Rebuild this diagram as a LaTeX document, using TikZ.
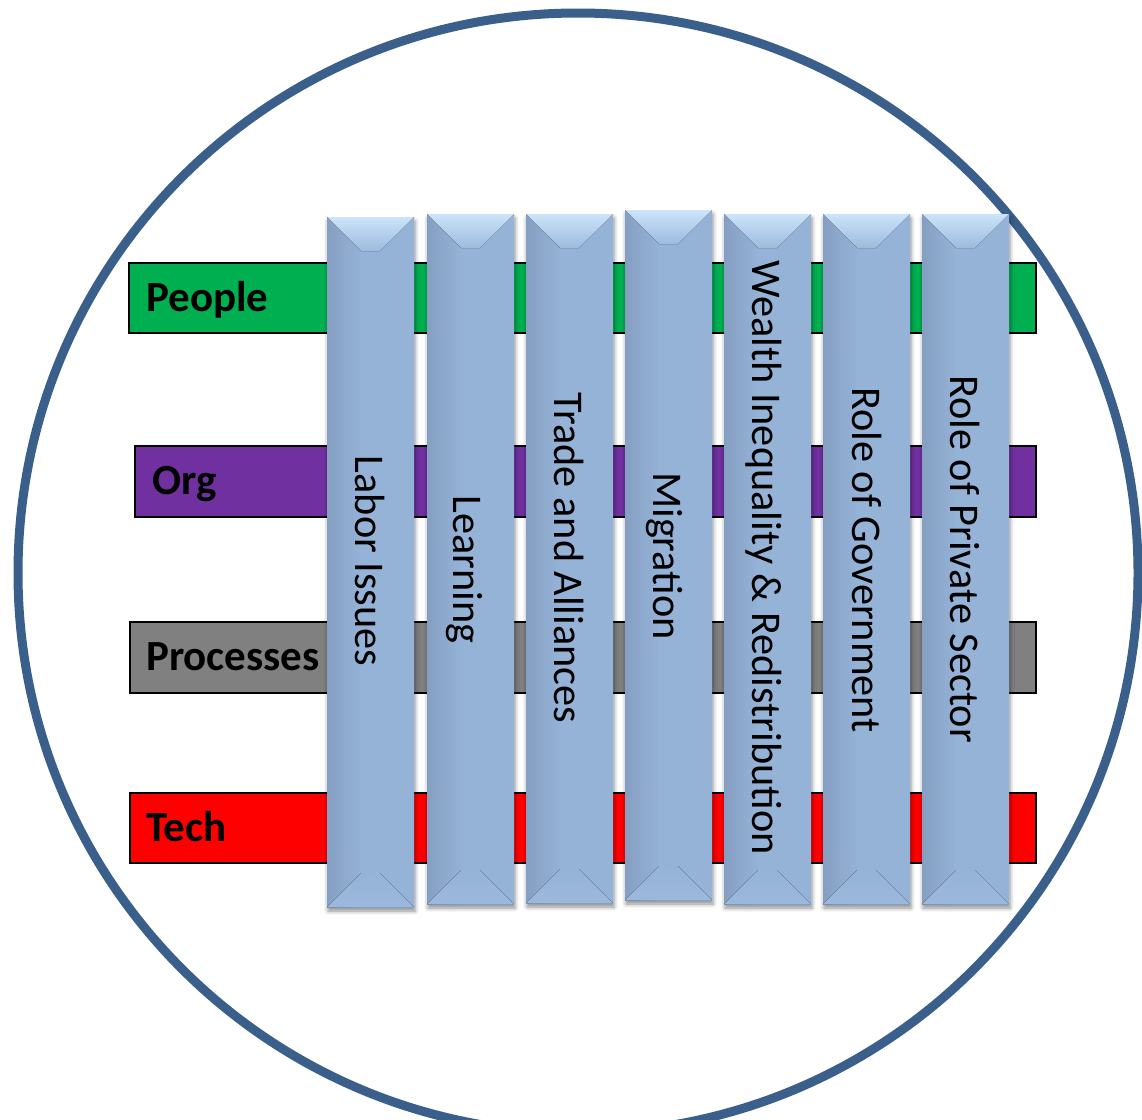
\documentclass[tikz,border=0pt]{standalone}
\usepackage{fontspec}
\setmainfont{Carlito}
\usetikzlibrary{calc,shadows.blur}
\definecolor{ringblue}{HTML}{3A5F8B}
\definecolor{pgreen}{HTML}{00B050}
\definecolor{ppurple}{HTML}{7030A0}
\definecolor{pgray}{HTML}{808080}
\definecolor{pred}{HTML}{FF0000}
\definecolor{pillarbase}{HTML}{95B3D7}
\definecolor{pillardark}{HTML}{859FC2}
\definecolor{pillarlight}{HTML}{CCE4FB}
\definecolor{pillartopb}{HTML}{9DBADE}
\definecolor{pillarbot}{HTML}{9CB9DD}
\pgfdeclarehorizontalshading{pillarshade}{100bp}{color(0bp)=(pillardark); color(25bp)=(pillardark); color(45bp)=(pillarbase); color(100bp)=(pillarbase)}
\tikzset{
  barbox/.style={draw=black, line width=2pt, rectangle, inner sep=0pt, outer sep=0pt, anchor=north west},
  barlabel/.style={inner sep=0pt, anchor=base west, font=\fontsize{43}{51}\selectfont\bfseries, text=black},
  pillarbox/.style={rectangle, shading=pillarshade, inner sep=0pt, outer sep=0pt, anchor=north west,
    blur shadow={shadow xshift=1pt, shadow yshift=-4pt, shadow blur radius=4pt, shadow opacity=45}},
  pillartext/.style={inner sep=0pt, anchor=base, rotate=-90, font=\fontsize{42.3}{50}\selectfont, text=black}
}
\begin{document}
\begin{tikzpicture}[x=1pt,y=-1pt]
\useasboundingbox (0,0) rectangle (1142,1119);
\begin{scope}
  \clip (0,0) rectangle (1142,1119);
  \node[circle, draw=ringblue, line width=9pt, minimum size=1120pt, inner sep=0pt] (ring) at (578,573) {};
\end{scope}
% horizontal bars
\node[barbox, fill=pgreen, minimum width=907pt, minimum height=70pt] (people) at (129,263) {};
\node[barbox, fill=ppurple, minimum width=901pt, minimum height=71pt] (org) at (135,446) {};
\node[barbox, fill=pgray, minimum width=906pt, minimum height=71pt] (processes) at (130,622) {};
\node[barbox, fill=pred, minimum width=906pt, minimum height=70pt] (tech) at (130,793) {};
\node[barlabel] (peoplelbl) at ($(people.west)+(17,13.3)$) {People};
\node[barlabel] (orglbl) at ($(org.west)+(17,13.3)$) {Org};
\node[barlabel] (processeslbl) at ($(processes.west)+(16,13.3)$) {Processes};
\node[barlabel] (techlbl) at ($(tech.west)+(16,13.3)$) {Tech};
% pillars
\foreach \n/\xa/\ya/\yb/\ty/\bo/\txt in {
  labor/327/217/907/561/15.5/Labor Issues,
  learning/427/214/904/569.5/17/Learning,
  trade/526/214/903/558/15.5/Trade and Alliances,
  migration/625/210/900/556/15.5/Migration,
  wealth/724/214/904/557.5/15.5/Wealth Inequality \& Redistribution,
  gov/823/214/904/560/14.5/Role of Government,
  private/922/214/904/559/15.5/Role of Private Sector}{
  \pgfmathsetmacro\hh{\yb-\ya}
  \node[pillarbox, minimum width=87pt, minimum height=\hh pt] (\n) at (\xa,\ya) {};
  \fill[top color=pillarbase, bottom color=pillarbot]
    (\n.south west) -- (\n.south east) -- ($(\n.south east)+(-34,-34)$) -- ($(\n.south west)+(34,-34)$) -- cycle;
  \fill[top color=pillarlight, bottom color=pillartopb]
    (\n.north west) -- (\n.north east) -- ($(\n.north east)+(-34,34)$) -- ($(\n.north west)+(34,34)$) -- cycle;
  \node[pillartext] (\n txt) at ($(\n.north west)+(43.5-\bo,0)+(0,\ty-\ya)$) {\txt};
}
\end{tikzpicture}
\end{document}
